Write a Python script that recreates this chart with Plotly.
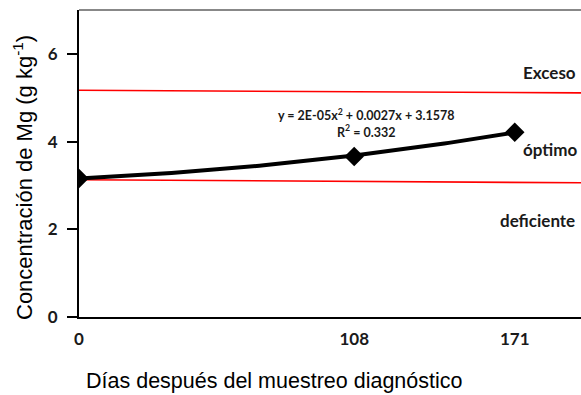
import numpy as np
import plotly.graph_objects as go

# Sampling days and mean Mg concentration (g kg-1)
dias = [0, 108, 171]
mg = [3.16, 3.66, 4.21]
tick_dias = [0, 108, 171]
tick_mg = [0, 2, 4, 6]

# Quadratic trend reported on the chart
coef_a, coef_b, coef_c = 2e-05, 0.0027, 3.1578

# Critical-level reference lines (start / end of the axis)
x_limits = [0, 197]
limite_exceso = [5.17, 5.11]
limite_deficiente = [3.13, 3.06]

x_max = 197
lbl_font = dict(family="Lato", size=17, color="#1a1a1a", weight="bold")
title_font = dict(family="Liberation Sans, Arial", size=21.5, color="black")

fig = go.Figure()

fig.add_trace(go.Scatter(x=x_limits, y=limite_exceso, mode="lines",
                         line=dict(color="#ff0000", width=1.6), hoverinfo="skip"))
fig.add_trace(go.Scatter(x=x_limits, y=limite_deficiente, mode="lines",
                         line=dict(color="#ff0000", width=1.6), hoverinfo="skip"))

xt = np.linspace(dias[0], dias[-1], 100)
yt = coef_a * xt ** 2 + coef_b * xt + coef_c
fig.add_trace(go.Scatter(x=xt, y=yt, mode="lines",
                         line=dict(color="black", width=4), hoverinfo="skip"))
fig.add_trace(go.Scatter(x=dias, y=mg, mode="markers",
                         marker=dict(symbol="diamond", size=15, color="black")))

fig.add_annotation(x=0.938, xref="paper", xanchor="center", y=5.57, text="Exceso",
                   showarrow=False, font=lbl_font)
fig.add_annotation(x=0.938, xref="paper", xanchor="center", y=3.83, text="óptimo",
                   showarrow=False, font=lbl_font)
fig.add_annotation(x=0.914, xref="paper", xanchor="center", y=2.19, text="deficiente",
                   showarrow=False, font=lbl_font)
fig.add_annotation(x=0.572, xref="paper", xanchor="center", y=4.42,
                   text="y = 2E-05x<sup>2</sup> + 0.0027x + 3.1578<br>R<sup>2</sup> = 0.332",
                   showarrow=False, align="center",
                   font=dict(family="Lato", size=12.5, color="#1a1a1a", weight="bold"))

# axis titles
fig.add_annotation(x=(274 - 79) / 502, xref="paper", xanchor="center",
                   y=-0.21, yref="paper", yanchor="middle",
                   text="Días después del muestreo diagnóstico", showarrow=False,
                   font=title_font)
fig.add_annotation(x=(23 - 79) / 502, xref="paper", xanchor="center",
                   y=(317 - 178) / 307, yref="paper", yanchor="middle", textangle=-90,
                   text="Concentración de Mg (g kg<sup>-1</sup>)", showarrow=False,
                   font=dict(family="Liberation Sans, Arial", size=22, color="black"))

# top border
fig.add_shape(type="line", xref="paper", yref="paper", x0=0, x1=1, y0=1, y1=1,
              line=dict(color="#888888", width=2))

fig.update_layout(
    width=581, height=395,
    margin=dict(l=79, r=0, t=10, b=78),
    paper_bgcolor="white", plot_bgcolor="white",
    showlegend=False,
    xaxis=dict(range=[0, x_max], tickvals=tick_dias, ticktext=[str(v) for v in tick_dias],
               showgrid=False, zeroline=False, showline=True, linecolor="black",
               linewidth=2, ticks="", ticklabelstandoff=6, tickfont=lbl_font),
    yaxis=dict(range=[0, 7], tickvals=tick_mg, showgrid=False, zeroline=False,
               showline=True, linecolor="black", linewidth=2, ticks="outside",
               ticklen=10, tickwidth=2, tickcolor="black", tickfont=lbl_font,
               ticklabelstandoff=6),
)

fig.write_html("out.html")
